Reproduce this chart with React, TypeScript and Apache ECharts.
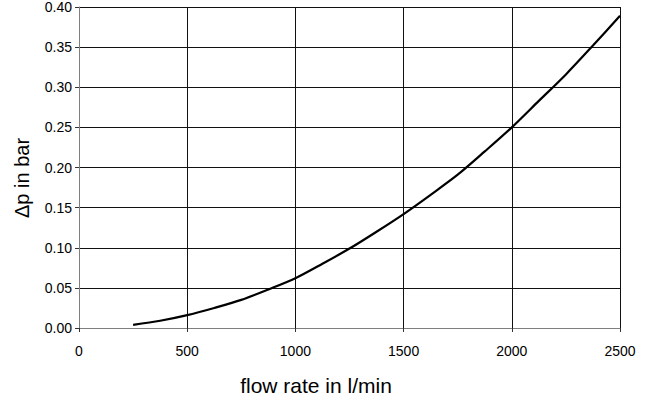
import React, { useEffect, useRef } from "react";
import * as echarts from "echarts";

const flowRates = [250, 375, 500, 625, 750, 875, 1000, 1125, 1250, 1375, 1500, 1625, 1750, 1875, 2000, 2125, 2250, 2375, 2500];
const pressureDrops = [0.004, 0.009, 0.016, 0.025, 0.035, 0.048, 0.062, 0.08, 0.099, 0.12, 0.142, 0.166, 0.191, 0.22, 0.25, 0.283, 0.316, 0.352, 0.389];
const xTitle = "flow rate in l/min";
const yTitle = "Δp in bar";

export default function App() {
  const ref = useRef<HTMLDivElement>(null);
  useEffect(() => {
    if (!ref.current) return;
    const chart = echarts.init(ref.current, null, { renderer: "svg" });
    const font = "'Liberation Sans', Arial, sans-serif";
    chart.setOption({
      animation: false,
      backgroundColor: "#ffffff",
      grid: { left: 79, right: 33, top: 6, bottom: 72, containLabel: false },
      xAxis: {
        type: "value",
        min: 0,
        max: 2500,
        interval: 500,
        axisLine: { show: true, lineStyle: { color: "#7f7f7f", width: 1 } },
        axisTick: { show: true, length: 4, inside: false, lineStyle: { color: "#333", width: 1 } },
        axisLabel: {
          color: "#000",
          fontSize: 14,
          fontFamily: font,
          margin: 16,
          formatter: (v: number) => String(v),
        },
        splitLine: { show: true, lineStyle: { color: "#111", width: 1 } },
      },
      yAxis: {
        type: "value",
        min: 0,
        max: 0.4,
        interval: 0.05,
        axisLine: { show: true, lineStyle: { color: "#7f7f7f", width: 1 } },
        axisTick: { show: true, length: 4, inside: false, lineStyle: { color: "#333", width: 1 } },
        axisLabel: {
          color: "#000",
          fontSize: 14,
          fontFamily: font,
          margin: 7,
          formatter: (v: number) => v.toFixed(2),
        },
        splitLine: { show: true, lineStyle: { color: "#111", width: 1 } },
      },
      graphic: [
        {
          type: "text",
          x: 316,
          y: 385,
          style: {
            text: xTitle,
            fontSize: 21,
            fontFamily: font,
            fill: "#000",
            align: "center",
            verticalAlign: "middle",
          },
        },
        {
          type: "text",
          x: 22,
          y: 178,
          rotation: Math.PI / 2,
          style: {
            text: yTitle,
            fontSize: 20,
            fontFamily: font,
            fill: "#000",
            align: "center",
            verticalAlign: "middle",
          },
        },
      ],
      series: [
        {
          type: "line",
          data: flowRates.map((x, i) => [x, pressureDrops[i]]),
          smooth: 0.3,
          showSymbol: false,
          lineStyle: { color: "#000", width: 2.2 },
        },
      ],
    });
    return () => chart.dispose();
  }, []);
  return (
    <div
      ref={ref}
      style={{ position: "fixed", left: 0, top: 0, width: 653, height: 400 }}
    />
  );
}
